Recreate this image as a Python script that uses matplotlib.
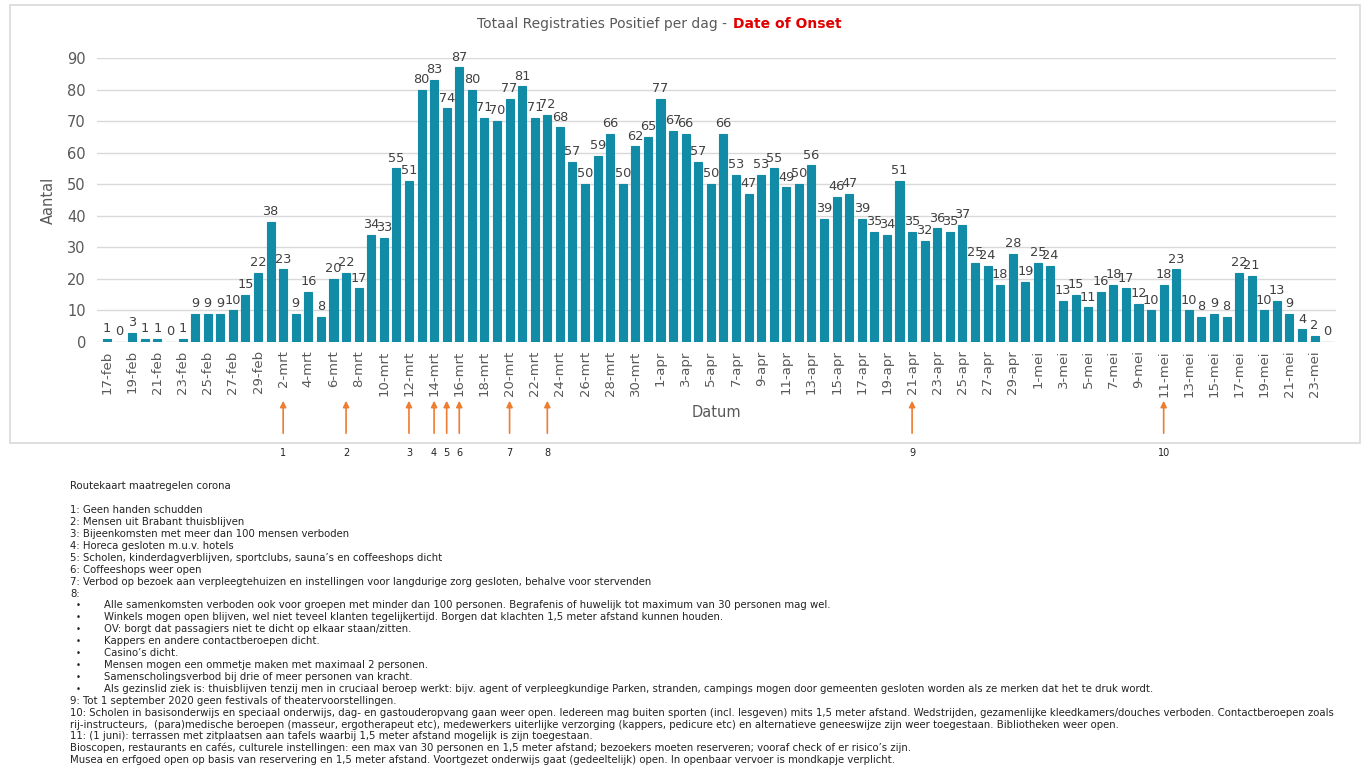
import matplotlib.pyplot as plt
import numpy as np
import pandas as pd
from matplotlib.patches import Rectangle
from matplotlib.transforms import blended_transform_factory

# Dagelijkse registraties per maand (date of onset)
feb_vals = [1, 0, 3, 1, 1, 0, 1, 9, 9, 9, 10, 15, 22]                      # 17-29 feb
mrt_vals = [38, 23, 9, 16, 8, 20, 22, 17, 34, 33, 55, 51, 80, 83, 74, 87,
            80, 71, 70, 77, 81, 71, 72, 68, 57, 50, 59, 66, 50, 62, 65]
apr_vals = [77, 67, 66, 57, 50, 66, 53, 47, 53, 55, 49, 50, 56, 39, 46, 47,
            39, 35, 34, 51, 35, 32, 36, 35, 37, 25, 24, 18, 28, 19]
mei_vals = [25, 24, 13, 15, 11, 16, 18, 17, 12, 10, 18, 23, 10, 8, 9, 8,
            22, 21, 10, 13, 9, 4, 2, 0]                                        # 1-24 mei
waarden = feb_vals + mrt_vals + apr_vals + mei_vals

start = "2020-02-17"
maanden = {2: "feb", 3: "mrt", 4: "apr", 5: "mei"}

# Maatregelen (nummer, datum)
maatregel_nr = ["1", "2", "3", "4", "5", "6", "7", "8", "9", "10"]
maatregel_datum = ["2020-03-02", "2020-03-07", "2020-03-12", "2020-03-14", "2020-03-15",
                   "2020-03-16", "2020-03-20", "2020-03-23", "2020-04-21", "2020-05-11"]

tekst_regels = [
    "1: Geen handen schudden",
    "2: Mensen uit Brabant thuisblijven",
    "3: Bijeenkomsten met meer dan 100 mensen verboden",
    "4: Horeca gesloten m.u.v. hotels",
    "5: Scholen, kinderdagverblijven, sportclubs, sauna\u2019s en coffeeshops dicht",
    "6: Coffeeshops weer open",
    "7: Verbod op bezoek aan verpleegtehuizen en instellingen voor langdurige zorg gesloten, behalve voor stervenden",
    "8:",
]
bullets = [
    "Alle samenkomsten verboden ook voor groepen met minder dan 100 personen. Begrafenis of huwelijk tot maximum van 30 personen mag wel.",
    "Winkels mogen open blijven, wel niet teveel klanten tegelijkertijd. Borgen dat klachten 1,5 meter afstand kunnen houden.",
    "OV: borgt dat passagiers niet te dicht op elkaar staan/zitten.",
    "Kappers en andere contactberoepen dicht.",
    "Casino\u2019s dicht.",
    "Mensen mogen een ommetje maken met maximaal 2 personen.",
    "Samenscholingsverbod bij drie of meer personen van kracht.",
    "Als gezinslid ziek is: thuisblijven tenzij men in cruciaal beroep werkt: bijv. agent of verpleegkundige Parken, stranden, campings mogen door gemeenten gesloten worden als ze merken dat het te druk wordt.",
]
slot_regels = [
    "9: Tot 1 september 2020 geen festivals of theatervoorstellingen.",
    "10: Scholen in basisonderwijs en speciaal onderwijs, dag- en gastouderopvang gaan weer open. Iedereen mag buiten sporten (incl. lesgeven) mits 1,5 meter afstand. Wedstrijden, gezamenlijke kleedkamers/douches verboden. Contactberoepen zoals",
    "rij-instructeurs,  (para)medische beroepen (masseur, ergotherapeut etc), medewerkers uiterlijke verzorging (kappers, pedicure etc) en alternatieve geneeswijze zijn weer toegestaan. Bibliotheken weer open.",
    "11: (1 juni): terrassen met zitplaatsen aan tafels waarbij 1,5 meter afstand mogelijk is zijn toegestaan.",
    "Bioscopen, restaurants en caf\u00e9s, culturele instellingen: een max van 30 personen en 1,5 meter afstand; bezoekers moeten reserveren; vooraf check of er risico\u2019s zijn.",
    "Musea en erfgoed open op basis van reservering en 1,5 meter afstand. Voortgezet onderwijs gaat (gedeeltelijk) open. In openbaar vervoer is mondkapje verplicht.",
]

datums = pd.date_range(start, periods=len(waarden), freq="D")
labels = [f"{d.day}-{maanden[d.month]}" for d in datums]
x = np.arange(len(waarden))

W, H = 1362, 771
fig = plt.figure(figsize=(W / 100, H / 100), dpi=100)
fig.patch.set_facecolor("white")

# kader om de grafiek
fig.add_artist(Rectangle((10 / W, 1 - 443 / H), 1350 / W, 438 / H, transform=fig.transFigure,
                         fill=False, edgecolor="#d9d9d9", linewidth=1.2))

ax = fig.add_axes([97 / W, 1 - 342 / H, (1336 - 97) / W, (342 - 58) / H])
kleur = "#128ba6"
ax.bar(x, waarden, width=0.64, color=kleur, edgecolor=kleur, linewidth=0.8, zorder=3)
for xi, v in zip(x, waarden):
    ax.text(xi, v + 1.2, str(v), ha="center", va="bottom", fontsize=9.3, color="#404040")

ax.set_xlim(-0.8, len(waarden) - 1 + 0.7)
ax.set_ylim(0, 90)
ax.set_yticks(range(0, 91, 10))
ax.yaxis.grid(True, color="#d9d9d9", linewidth=1, zorder=0)
ax.set_xticks(x[::2])
ax.set_xticklabels(labels[::2], rotation=90, fontsize=9.5, color="#595959")
ax.tick_params(axis="y", labelsize=10.5, labelcolor="#595959", length=0, pad=8)
ax.tick_params(axis="x", length=0, pad=6)
for s in ax.spines.values():
    s.set_visible(False)
ax.set_ylabel("Aantal", fontsize=10.5, color="#595959", labelpad=8)
ax.set_xlabel("Datum", fontsize=10.5, color="#595959", labelpad=6)

# titel in twee kleuren
fig.text(727 / W, 1 - 24 / H, "Totaal Registraties Positief per dag -", ha="right", va="center",
         fontsize=10, color="#595959")
fig.text(733 / W, 1 - 24 / H, "Date of Onset", ha="left", va="center",
         fontsize=10, color="#e00000", fontweight="bold")

# pijlen voor de maatregelen
trans = blended_transform_factory(ax.transData, fig.transFigure)
for nr, d in zip(maatregel_nr, maatregel_datum):
    xi = (pd.Timestamp(d) - pd.Timestamp(start)).days
    ax.annotate("", xy=(xi, 1 - 398 / H), xytext=(xi, 1 - 436 / H), xycoords=trans, textcoords=trans,
                arrowprops=dict(arrowstyle="-|>", color="#ed7d31", lw=1.2, mutation_scale=9),
                annotation_clip=False)
    ax.text(xi, 1 - 453 / H, nr, transform=trans, ha="center", va="center", fontsize=7, color="#222222")

# toelichting onder de grafiek
fs = 7.3
fig.text(70 / W, 1 - 486 / H, "Routekaart maatregelen corona", fontsize=fs, va="center", color="#222222")
y = 510
for regel in tekst_regels:
    fig.text(70 / W, 1 - y / H, regel, fontsize=fs, va="center", color="#222222")
    y += 12
y -= 1
for regel in bullets:
    fig.text(76 / W, 1 - y / H, "\u2022", fontsize=fs - 1, va="center", color="#222222")
    fig.text(104 / W, 1 - y / H, regel, fontsize=fs, va="center", color="#222222")
    y += 12
for regel in slot_regels:
    fig.text(70 / W, 1 - y / H, regel, fontsize=fs, va="center", color="#222222")
    y += 11.8

fig.savefig("out.png", dpi=100)
